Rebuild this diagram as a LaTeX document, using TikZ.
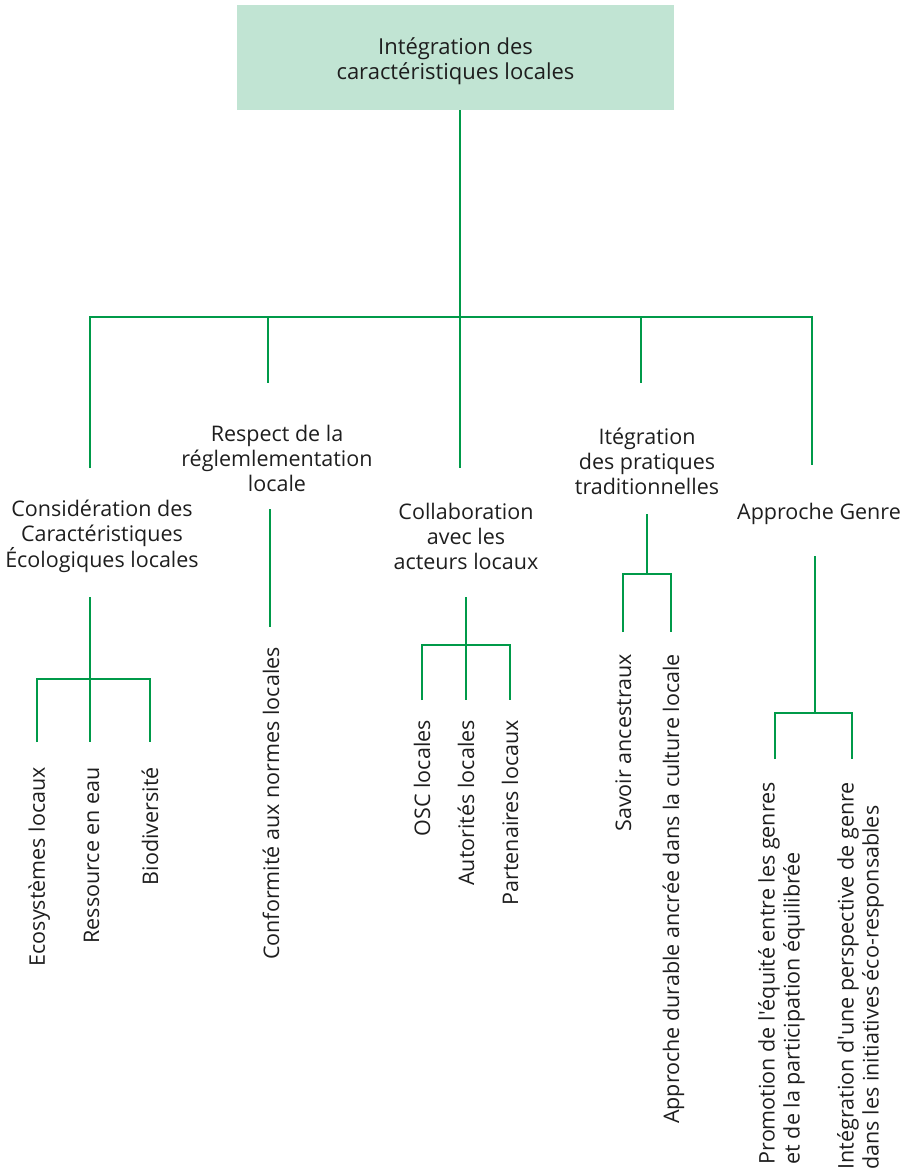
\documentclass[tikz,border=0pt]{standalone}
\usepackage{fontspec}
\setmainfont{Open Sans}
\definecolor{lg}{HTML}{009A49}
\definecolor{boxfill}{HTML}{C1E4D3}
\definecolor{txt}{HTML}{1E1E1E}
\tikzset{
  conn/.style={draw=lg, line width=2.6pt},
  rootbox/.style={fill=boxfill, minimum width=437pt, minimum height=105pt, align=center, inner sep=0pt, text=txt, font=\fontsize{22}{25}\selectfont},
  lbl/.style={align=center, inner sep=0pt, text=txt},
  leaf/.style={rotate=90, anchor=base east, inner sep=0pt, text=txt},
  leaftwo/.style={rotate=90, anchor=north east, align=left, inner sep=0pt, text=txt}
}
\begin{document}
\begin{tikzpicture}[x=1pt, y=-1pt, font=\fontsize{21.5}{25}\selectfont]
\useasboundingbox (0,0) rectangle (911,1171);
% root
\node[rootbox] (root) at (455.5,57.5) {\rule{0pt}{25pt}Intégration des\\caractéristiques locales};
% level 1 labels
\node[lbl] (c1) at (102,536) {Considération des\\Caractéristiques\\Écologiques locales};
\node[lbl] (c2) at (277,458) {Respect de la\\réglemlementation\\locale};
\node[lbl] (c3) at (466,536.5) {Collaboration\\avec les\\acteurs locaux};
\node[lbl] (c4) at (647,461) {Itégration\\des pratiques\\traditionnelles};
\node[lbl, anchor=base] (c5) at (819,519) {Approche Genre};
% leaves
\node[leaf] (l11) at (45,767) {Ecosystèmes locaux};
\node[leaf] (l12) at (99,767) {Ressource en eau};
\node[leaf] (l13) at (158,767) {Biodiversité};
\node[leaf] (l21) at (279,647) {Conformité aux normes locales};
\node[leaf] (l31) at (430,720) {OSC locales};
\node[leaf] (l32) at (474,720) {Autorités locales};
\node[leaf] (l33) at (518,720) {Partenaires locaux};
\node[leaf] (l41) at (631,654) {Savoir ancestraux};
\node[leaf] (l42) at (679,654) {Approche durable ancrée dans la culture locale};
\node[leaftwo] (l51) at (758,782) {Promotion de l\textquotesingle équité entre les genres\\et de la participation équilibrée};
\node[leaftwo] (l52) at (837,782) {Intégration d\textquotesingle une perspective de genre\\dans les initiatives éco-responsables};
% junction coordinates, main tree
\coordinate (j0) at (460,317);
\coordinate (h1) at (90,317);
\coordinate (h2) at (268,317);
\coordinate (h4) at (641,317);
\coordinate (h5) at (812,317);
\coordinate (e1) at (90,468);
\coordinate (e2) at (268,383);
\coordinate (e3) at (460,468);
\coordinate (e4) at (641,383);
\coordinate (e5) at (812,465);
\draw[conn] (root.south -| j0) -- (j0);
\draw[conn] (e1) -- (h1) -- (h5) -- (e5);
\draw[conn] (h2) -- (e2);
\draw[conn] (j0) -- (e3);
\draw[conn] (h4) -- (e4);
% group 1
\coordinate (g1s) at (90,597);
\coordinate (g1a) at (37,679);
\coordinate (g1c) at (150,679);
\coordinate (g1ae) at (37,742);
\coordinate (g1be) at (90,742);
\coordinate (g1ce) at (150,742);
\draw[conn] (g1s) -- (g1be);
\draw[conn] (g1ae) -- (g1a) -- (g1c) -- (g1ce);
% group 2
\coordinate (g2s) at (270,509);
\coordinate (g2e) at (270,627);
\draw[conn] (g2s) -- (g2e);
% group 3
\coordinate (g3s) at (466,597);
\coordinate (g3a) at (422,645);
\coordinate (g3c) at (510,645);
\coordinate (g3ae) at (422,700);
\coordinate (g3be) at (466,700);
\coordinate (g3ce) at (510,700);
\draw[conn] (g3s) -- (g3be);
\draw[conn] (g3ae) -- (g3a) -- (g3c) -- (g3ce);
% group 4
\coordinate (g4s) at (647,514);
\coordinate (g4j) at (647,574);
\coordinate (g4a) at (623,574);
\coordinate (g4c) at (671,574);
\coordinate (g4ae) at (623,632);
\coordinate (g4ce) at (671,632);
\draw[conn] (g4s) -- (g4j);
\draw[conn] (g4ae) -- (g4a) -- (g4c) -- (g4ce);
% group 5
\coordinate (g5s) at (815,556);
\coordinate (g5j) at (815,713);
\coordinate (g5a) at (775,713);
\coordinate (g5c) at (852,713);
\coordinate (g5ae) at (775,759);
\coordinate (g5ce) at (852,759);
\draw[conn] (g5s) -- (g5j);
\draw[conn] (g5ae) -- (g5a) -- (g5c) -- (g5ce);
\end{tikzpicture}
\end{document}
